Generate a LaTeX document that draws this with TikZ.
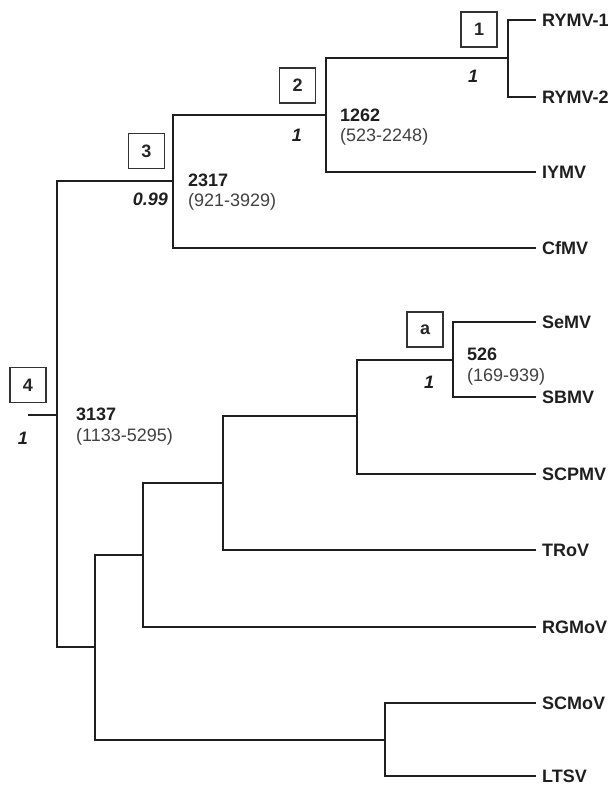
\documentclass[tikz,border=0pt]{standalone}
\usepackage{fontspec}
\setmainfont{Liberation Sans}
\begin{document}
\begin{tikzpicture}[x=1pt,y=-1pt,
  branch/.style={line width=2pt,draw=black!88},
  tiplbl/.style={anchor=west,inner xsep=6pt,inner ysep=0pt,font=\fontsize{18}{20}\selectfont\bfseries,text=black!88},
  cbox/.style={draw=black!80,line width=1.5pt,minimum width=36pt,minimum height=35pt,inner sep=0pt,font=\fontsize{18}{20}\selectfont\bfseries,text=black!85},
  supp/.style={inner sep=0pt,font=\fontsize{18}{20}\selectfont\bfseries\itshape,text=black!88},
  agelbl/.style={anchor=west,inner sep=0pt,font=\fontsize{18}{20}\selectfont\bfseries,text=black!88},
  cilbl/.style={anchor=west,inner sep=0pt,font=\fontsize{18}{20}\selectfont,text=black!75}]
\useasboundingbox (0,0) rectangle (615,786);

% tips
\node[tiplbl] (RYMV1) at (536,20) {RYMV-1};
\node[tiplbl] (RYMV2) at (536,97) {RYMV-2};
\node[tiplbl] (IYMV) at (536,172) {IYMV};
\node[tiplbl] (CfMV) at (536,248) {CfMV};
\node[tiplbl] (SeMV) at (536,322) {SeMV};
\node[tiplbl] (SBMV) at (536,397) {SBMV};
\node[tiplbl] (SCPMV) at (536,474) {SCPMV};
\node[tiplbl] (TRoV) at (536,550) {TRoV};
\node[tiplbl] (RGMoV) at (536,627) {RGMoV};
\node[tiplbl] (SCMoV) at (536,703) {SCMoV};
\node[tiplbl] (LTSV) at (536,776) {LTSV};

% internal nodes
\coordinate (n1) at (508,58.5);
\coordinate (n2) at (326,115);
\coordinate (n3) at (173,181);
\coordinate (root) at (57,415);
\coordinate (stub) at (28,415);
\coordinate (na) at (453,359.5);
\coordinate (nscp) at (357,416);
\coordinate (ntr) at (223,483);
\coordinate (nrg) at (143,555);
\coordinate (nsc) at (385,739.5);
\coordinate (nb) at (95,647);

% branches
\draw[branch] (n1) |- (RYMV1.west);
\draw[branch] (n1) |- (RYMV2.west);
\draw[branch] (n2) |- (n1);
\draw[branch] (n2) |- (IYMV.west);
\draw[branch] (n3) |- (n2);
\draw[branch] (n3) |- (CfMV.west);
\draw[branch] (root) |- (n3);
\draw[branch] (root) |- (nb);
\draw[branch] (stub) -- (root);
\draw[branch] (na) |- (SeMV.west);
\draw[branch] (na) |- (SBMV.west);
\draw[branch] (nscp) |- (na);
\draw[branch] (nscp) |- (SCPMV.west);
\draw[branch] (ntr) |- (nscp);
\draw[branch] (ntr) |- (TRoV.west);
\draw[branch] (nrg) |- (ntr);
\draw[branch] (nrg) |- (RGMoV.west);
\draw[branch] (nb) |- (nrg);
\draw[branch] (nb) |- (nsc);
\draw[branch] (nsc) |- (SCMoV.west);
\draw[branch] (nsc) |- (LTSV.west);

% boxed clade labels
\node[cbox] (b1) at (479,29.5) {1};
\node[cbox] (b2) at (297.5,85.5) {2};
\node[cbox] (b3) at (146.5,151) {3};
\node[cbox] (b4) at (28,385) {4};
\node[cbox] (ba) at (425,329.5) {a};

% support values
\node[supp] (s1) at (473,76) {1};
\node[supp] (s2) at (297,135) {1};
\node[supp,anchor=east] (s3) at (168,199) {0.99};
\node[supp] (s4) at (23,438) {1};
\node[supp] (sa) at (429,382) {1};

% ages
\node[agelbl] (a2) at (340,115) {1262};
\node[cilbl] (c2) at (340,137) {(523-2248)};
\node[agelbl] (a3) at (188,180) {2317};
\node[cilbl] (c3) at (188,202) {(921-3929)};
\node[agelbl] (a4) at (76,414) {3137};
\node[cilbl] (c4) at (76,437) {(1133-5295)};
\node[agelbl] (aa) at (467,354) {526};
\node[cilbl] (ca) at (467,377) {(169-939)};
\end{tikzpicture}
\end{document}
